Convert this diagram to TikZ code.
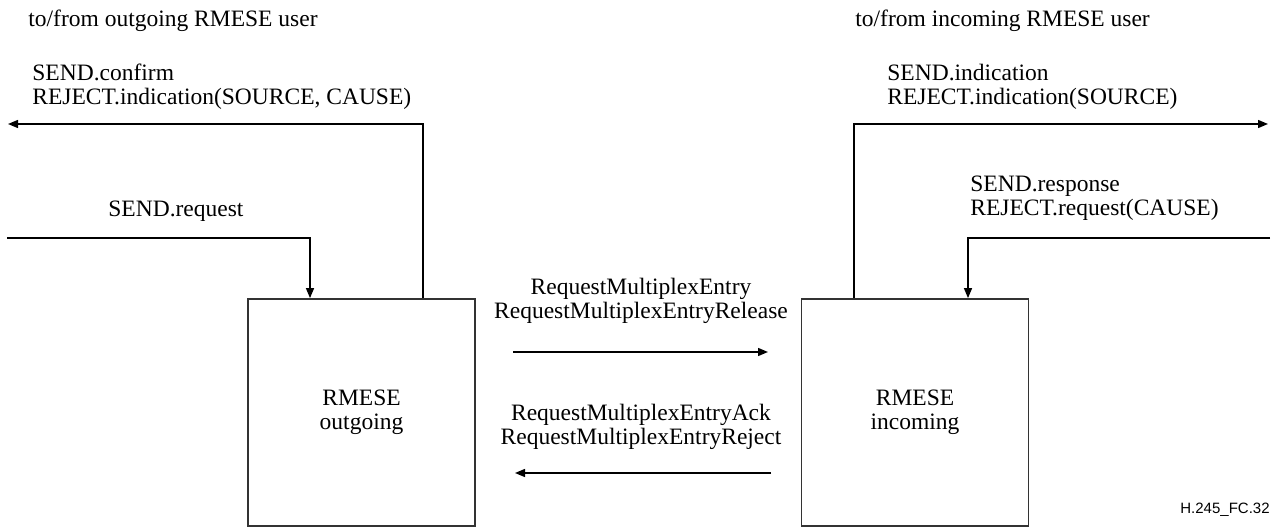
\documentclass[tikz,border=0pt]{standalone}
\usepackage{fontspec}
\setmainfont{Liberation Serif}
\setsansfont{Liberation Sans}
\usetikzlibrary{arrows.meta}
\begin{document}
\begin{tikzpicture}[x=0.5pt,y=-0.5pt,font=\fontsize{11.75}{12}\selectfont,
  lbl/.style={inner sep=0pt,align=left,anchor=base west},
  midlbl/.style={inner sep=0pt,align=center,anchor=base},
  entity/.style={draw=black!80,line width=0.9pt,minimum width=113.5pt,minimum height=113.5pt,align=center,inner sep=0pt},
  flow/.style={line width=0.7pt,-{Triangle[length=5pt,width=4pt]}}]
\useasboundingbox (0,0) rectangle (1278,529);
\node[entity] (out) at (361.5,412.5) {RMESE\\outgoing};
\node[entity] (inc) at (915,412.5) {RMESE\\incoming};
\node[lbl] (userOut) at (28,27) {to/from outgoing RMESE user};
\node[lbl] (userInc) at (855,27) {to/from incoming RMESE user};
\node[lbl] (confirmLbl) at (32,105) {SEND.confirm\\REJECT.indication(SOURCE, CAUSE)};
\node[lbl] (indLbl) at (887,105) {SEND.indication\\REJECT.indication(SOURCE)};
\node[lbl] (reqLbl) at (108,217) {SEND.request};
\node[lbl] (respLbl) at (970,215) {SEND.response\\REJECT.request(CAUSE)};
\node[midlbl] (fwdLbl) at (641,318) {RequestMultiplexEntry\\RequestMultiplexEntryRelease};
\node[midlbl] (bwdLbl) at (641,444) {RequestMultiplexEntryAck\\RequestMultiplexEntryReject};
\node[inner sep=0pt,anchor=base east,font=\sffamily\fontsize{7.5}{9}\selectfont] (figId) at (1270,513) {H.245\_FC.32};
\coordinate (confirmEnd) at (8,124);
\coordinate (confirmBend) at (423,124);
\coordinate (reqStart) at (7,238);
\coordinate (reqBend) at (310,238);
\coordinate (indBend) at (854,124);
\coordinate (indEnd) at (1268,124);
\coordinate (respStart) at (1270,238);
\coordinate (respBend) at (968,238);
\coordinate (fwdStart) at (513,352);
\coordinate (fwdEnd) at (768,352);
\coordinate (bwdStart) at (771,473);
\coordinate (bwdEnd) at (515,473);
\draw[flow] (confirmBend |- out.north) -- (confirmBend) -- (confirmEnd);
\draw[flow] (reqStart) -- (reqBend) -- (reqBend |- out.north);
\draw[flow] (indBend |- inc.north) -- (indBend) -- (indEnd);
\draw[flow] (respStart) -- (respBend) -- (respBend |- inc.north);
\draw[flow] (fwdStart) -- (fwdEnd);
\draw[flow] (bwdStart) -- (bwdEnd);
\end{tikzpicture}
\end{document}
